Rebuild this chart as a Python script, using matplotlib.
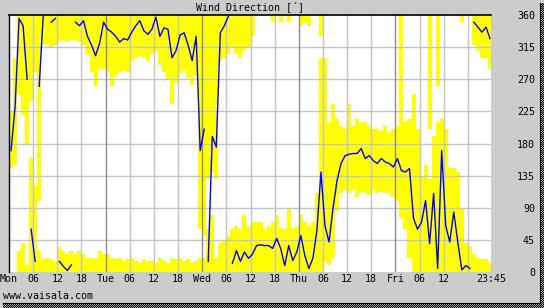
import numpy as np
import matplotlib
matplotlib.use('Agg')
import matplotlib.pyplot as plt

# Hourly wind direction, Mon 00:00 .. Fri 23:00 (degrees)
# max/min can run past 360 / below 0 where the range wraps over north
wd_mean = [170, 230, 355, 345, 270, 60, 15, 260, 358, 5, 350, 355,
           15, 8, 2, 10, 350, 345, 352, 330, 318, 303, 320, 350,
           340, 336, 330, 322, 327, 325, 336, 345, 352, 338, 333, 340,
           357, 330, 342, 340, 300, 310, 332, 335, 318, 296, 330, 170,
           200, 15, 190, 175, 335, 345, 358, 12, 30, 15, 28, 19,
           25, 37, 38, 37, 37, 33, 47, 33, 9, 37, 16, 28,
           51, 23, 5, 19, 58, 140, 65, 42, 89, 128, 152, 163,
           165, 166, 166, 173, 159, 163, 156, 152, 159, 154, 152, 147,
           159, 142, 140, 145, 75, 60, 70, 100, 40, 110, 5, 170,
           65, 42, 84, 42, 3, 9, 5, 350, 343, 336, 343, 327]

wd_min = [145, 150, 250, 220, 180, -120, -80, 100, 318, 320, 315, 318,
          322, 325, 322, 325, 325, 322, 318, 305, 280, 260, 285, 285,
          280, 260, 275, 280, 282, 280, 295, 300, 302, 300, 295, 305,
          310, 290, 280, 270, 235, 265, 278, 282, 272, 262, 275, 60,
          50, 130, 140, 130, 295, 300, 305, 315, 305, 300, 310, 315,
          330, 0, 0, 0, 0, -10, 0, -10, 0, -10, 0, 0,
          -15, -10, -15, 0, 0, 330, 15, 10, 20, 85, 110, 115,
          110, 115, 105, 112, 110, 108, 115, 110, 112, 110, 110, 105,
          100, 75, 60, 20, 0, 0, 0, 0, -160, 0, -100, 0,
          0, 0, 0, 0, -10, 0, 0, 318, 310, 300, 300, 285]

wd_max = [225, 300, 390, 400, 370, 160, 120, 390, 378, 380, 378, 375,
          395, 390, 385, 390, 385, 390, 385, 380, 380, 380, 390, 385,
          385, 380, 378, 380, 375, 378, 380, 375, 372, 378, 376, 375,
          372, 380, 375, 372, 380, 378, 380, 375, 378, 372, 376, 380,
          380, 420, 440, 380, 400, 405, 410, 420, 425, 420, 440, 425,
          430, 70, 70, 60, 65, 70, 80, 62, 60, 90, 62, 65,
          80, 70, 65, 70, 110, 660, 300, 210, 235, 215, 205, 200,
          235, 205, 215, 210, 210, 205, 200, 200, 198, 205, 195, 200,
          205, 360, 210, 215, 250, 200, 135, 150, 130, 190, 210, 215,
          200, 145, 145, 140, 90, 40, 35, 385, 380, 378, 378, 372]

day_names = ['Mon', 'Tue', 'Wed', 'Thu', 'Fri']
y_ticks = [0, 45, 90, 135, 180, 225, 270, 315, 360]
end_label = '23:45'
end_hour = 119.75

hours = np.arange(len(wd_mean))
lo = np.array(wd_min, dtype=float)
hi = np.array(wd_max, dtype=float)
main_lo = np.clip(lo, 0, 360)
main_hi = np.clip(hi, 0, 360)
wrap_lo = np.where(lo < 0, lo + 360, np.where(hi > 360, 0, np.nan))
wrap_hi = np.where(lo < 0, 360, np.where(hi > 360, hi - 360, np.nan))

# break the mean line where it wraps over north
m = np.array(wd_mean, dtype=float)
t = hours + 0.5
cut = np.where(np.abs(np.diff(m)) > 180)[0] + 1
m_line = np.insert(m, cut, np.nan)
t_line = np.insert(t, cut, np.nan)

plt.rcParams['font.family'] = 'DejaVu Sans Mono'
plt.rcParams['font.size'] = 7.2

W, H = 544, 308
fig = plt.figure(figsize=(W / 100, H / 100), dpi=100, facecolor='#cccccc')
ax = fig.add_axes([9 / W, 36 / H, 482 / W, 257 / H])
ax.set_facecolor('white')

ax.bar(hours, main_hi - main_lo, bottom=main_lo, width=1, align='edge',
       color='#ffff00', linewidth=0, zorder=1)
ax.bar(hours, wrap_hi - wrap_lo, bottom=wrap_lo, width=1, align='edge',
       color='#ffff00', linewidth=0, zorder=1)

# grid
for yv in y_ticks[1:-1]:
    ax.axhline(yv, color='#c4c4c4', lw=1, zorder=2)
for h in range(6, 120, 6):
    ax.axvline(h, color='#8c8c8c' if h % 24 == 0 else '#c4c4c4', lw=1, zorder=2)

ax.plot(t_line, m_line, color='#0000ff', lw=1.0, zorder=3)

ax.set_xlim(0, end_hour)
ax.set_ylim(0, 360)

xt, xl = [], []
for d, name in enumerate(day_names):
    for k, lab in enumerate([name, '06', '12', '18']):
        h = d * 24 + k * 6
        if h + 6 > end_hour:
            continue
        xt.append(h)
        xl.append(lab)
xt.append(end_hour)
xl.append(end_label)
ax.set_xticks(xt)
ax.set_xticklabels(xl)
ax.tick_params(axis='x', length=0, pad=1.5)

ax.yaxis.tick_right()
ax.set_yticks(y_ticks)
ax.set_yticklabels([str(v) for v in y_ticks], ha='right')
ax.tick_params(axis='y', length=0, pad=31.7)

for s in ['right', 'bottom']:
    ax.spines[s].set_visible(False)
ax.spines['top'].set_color('black')
ax.spines['left'].set_color('black')
ax.spines['top'].set_linewidth(1.2)
ax.spines['left'].set_linewidth(1.0)

fig.text(250 / W, 1 - 7 / H, 'Wind Direction [´]', ha='center', va='center')
fig.text(3 / W, 1 - 296 / H, 'www.vaisala.com', ha='left', va='center')

# outer frame with dithered shadow
checker = (np.indices((H, 4)).sum(axis=0) % 2).astype(float)
sh = fig.add_axes([540 / W, 0, 4 / W, (H - 3) / H])
sh.imshow(checker[:H - 3], cmap='gray', interpolation='nearest', aspect='auto', vmin=0, vmax=1.6)
sh.axis('off')
checker2 = (np.indices((5, W)).sum(axis=0) % 2).astype(float)
sb = fig.add_axes([3 / W, 0, (W - 3) / W, 5 / H])
sb.imshow(checker2[:, 3:], cmap='gray', interpolation='nearest', aspect='auto', vmin=0, vmax=1.6)
sb.axis('off')
fig.add_artist(plt.Line2D([539.5 / W, 539.5 / W], [5 / H, 1 - 3 / H], color='black', lw=0.8))
fig.add_artist(plt.Line2D([3 / W, 539.5 / W], [5.5 / H, 5.5 / H], color='black', lw=0.8))

fig.savefig('out.png', dpi=100, facecolor=fig.get_facecolor())
